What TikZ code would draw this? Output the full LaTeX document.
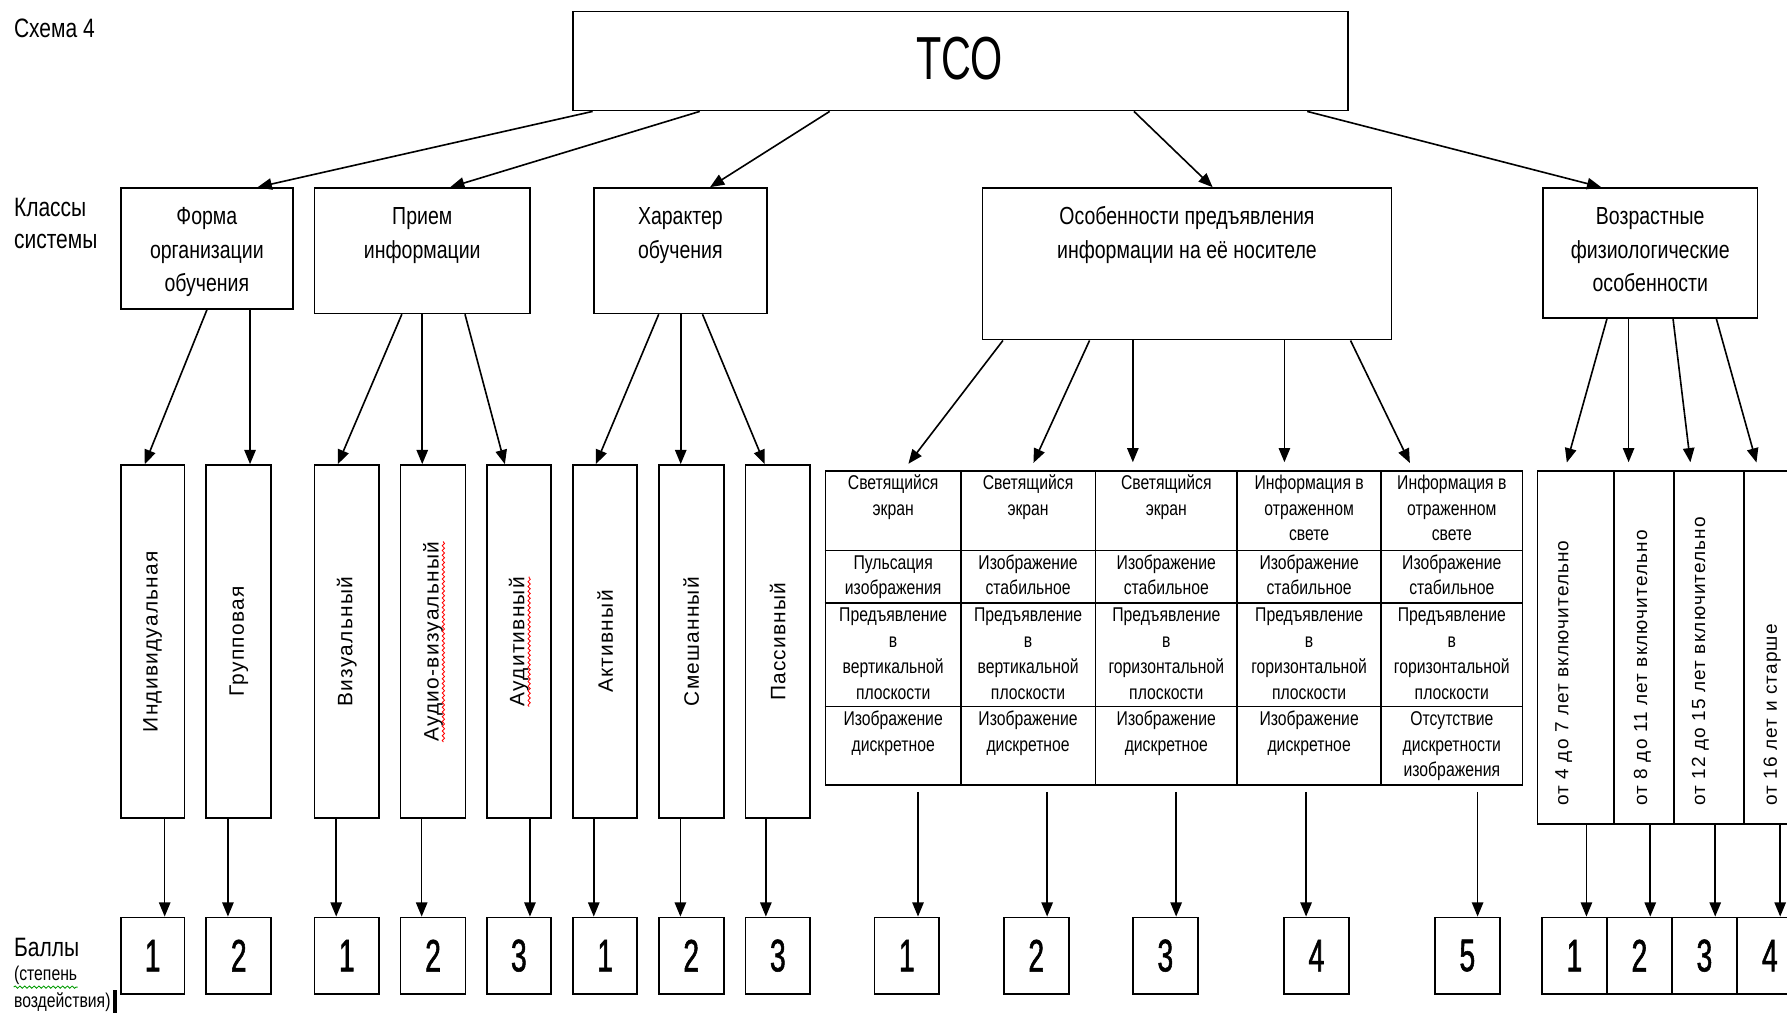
\documentclass[tikz,border=0pt]{standalone}
\usepackage{fontspec}
\setmainfont{Liberation Sans}
\newfontfamily\nar{Liberation Sans}[FakeStretch=0.79]
\newfontfamily\tcof{Liberation Sans}[FakeStretch=0.68]
\newfontfamily\digf{Liberation Sans}[FakeStretch=0.62,FakeBold=1.2]
\newfontfamily\vrt{Liberation Sans}[LetterSpace=6]
\usetikzlibrary{arrows.meta,fit,decorations.pathmorphing}
\newcommand\fl{\rule{0pt}{0.8em}}
\begin{document}
\begin{tikzpicture}[x=0.6pt,y=-0.6pt,
  bx/.style={draw, line width=0.9pt, inner sep=0pt},
  arr/.style={line width=0.85pt, -{Triangle[length=7.5pt,width=6pt]}},
  ln/.style={line width=0.9pt},
  cls/.style={font=\nar\fontsize{13}{17.7}\selectfont, align=center, anchor=north, inner sep=0pt},
  cell/.style={font=\nar\fontsize{10.5}{13.6}\selectfont, align=center, anchor=north, inner sep=0pt},
  vtxt/.style={font=\vrt\fontsize{11}{13}\selectfont, rotate=90, inner sep=0pt},
  atxt/.style={font=\vrt\fontsize{10}{12}\selectfont, rotate=90, anchor=west, inner sep=0pt},
  dig/.style={font=\digf\fontsize{24}{28}\selectfont, inner sep=0pt},
  lbl/.style={font=\nar\fontsize{14}{17}\selectfont, anchor=west, inner sep=0pt},
  sm/.style={font=\nar\fontsize{10.5}{12}\selectfont, anchor=west, inner sep=0pt},
  spell/.style={decorate, decoration={snake, amplitude=0.6pt, segment length=2.5pt}, line width=0.45pt}
]
\useasboundingbox (0,0) rectangle (1568,892);
\clip (0,0) rectangle (1568,892);

% left labels
\node[lbl] (sch) at (12,25) {Схема 4};
\node[lbl] (kl1) at (12,182) {Классы};
\node[lbl] (kl2) at (12,212) {системы};
\node[lbl] (bal) at (12,831) {Баллы};
\node[sm] (st1) at (12,856) {(степень};
\node[sm] (st2) at (12,879) {воздействия)};
\draw[spell, green!60!black] ([yshift=-1pt]st1.south west) -- ([yshift=-1pt]st1.south east);
\fill (st2.east) ++(2,-10) rectangle ++(3,20);

% root
\node[bx, fit={(503,10)(1183,97)}] (tco) {};
\node[font=\tcof\fontsize{32}{36}\selectfont, inner sep=0pt] (tcot) at (842,51) {ТСО};

% classes
\node[bx, fit={(106,165)(257,271)}] (c1) {};
\node[cls] (c1t) at (181.5,179.5) {\fl Форма\\организации\\обучения};
\node[bx, fit={(276,165)(465,275)}] (c2) {};
\node[cls] (c2t) at (370.5,179.5) {\fl Прием\\информации};
\node[bx, fit={(521,165)(673,275)}] (c3) {};
\node[cls] (c3t) at (597,179.5) {\fl Характер\\обучения};
\node[bx, fit={(862,165)(1221,298)}] (c4) {};
\node[cls] (c4t) at (1041.5,179.5) {\fl Особенности предъявления\\информации на её носителе};
\node[bx, fit={(1354,165)(1542,279)}] (c5) {};
\node[cls] (c5t) at (1448,179.5) {\fl Возрастные\\физиологические\\особенности};

\draw[arr] (tco.south -| 520,0) -- (c1.north -| 226,0);
\draw[arr] (tco.south -| 614,0) -- (c2.north -| 395,0);
\draw[arr] (tco.south -| 728,0) -- (c3.north -| 623,0);
\draw[arr] (tco.south -| 995,0) -- (c4.north -| 1064,0);
\draw[arr] (tco.south -| 1147,0) -- (c5.north -| 1405,0);

% level 2 vertical boxes
\node[bx, fit={(106,408)(162,718)}] (b1) {};
\node[vtxt] (b1t) at (b1.center) {Индивидуальная};
\node[bx, fit={(181,408)(238,718)}] (b2) {};
\node[vtxt] (b2t) at (b2.center) {Групповая};
\node[bx, fit={(276,408)(332.5,718)}] (b3) {};
\node[vtxt] (b3t) at (b3.center) {Визуальный};
\node[bx, fit={(351.5,408)(408.5,718)}] (b4) {};
\node[vtxt] (b4t) at (b4.center) {Аудио-визуальный};
\node[bx, fit={(427,408)(483.5,718)}] (b5) {};
\node[vtxt] (b5t) at (b5.center) {Аудитивный};
\node[bx, fit={(503,408)(559,718)}] (b6) {};
\node[vtxt] (b6t) at (b6.center) {Активный};
\node[bx, fit={(578,408)(635,718)}] (b7) {};
\node[vtxt] (b7t) at (b7.center) {Смешанный};
\node[bx, fit={(654,408)(711,718)}] (b8) {};
\node[vtxt] (b8t) at (b8.center) {Пассивный};
\draw[spell, red] (b4t.south west) -- (b4t.south east);
\draw[spell, red] (b5t.south west) -- (b5t.south east);

\draw[arr] (c1.south -| 181.6,0) -- (b1.north -| 127,0);
\draw[arr] (c1.south -| 219.4,0) -- (b2.north -| 219.4,0);
\draw[arr] (c2.south -| 352.6,0) -- (b3.north -| 296.4,0);
\draw[arr] (c2.south -| 370.5,0) -- (b4.north -| 370.5,0);
\draw[arr] (c2.south -| 408,0) -- (b5.north -| 443,0);
\draw[arr] (c3.south -| 578,0) -- (b6.north -| 522.8,0);
\draw[arr] (c3.south -| 597.3,0) -- (b7.north -| 597.3,0);
\draw[arr] (c3.south -| 616.4,0) -- (b8.north -| 671,0);

% table of presentation features
\node[bx, fit={(724.3,413)(843,689)}] (t1) {};
\node[bx, fit={(843,413)(961.2,689)}] (t2) {};
\node[bx, fit={(961.2,413)(1085.5,689)}] (t3) {};
\node[bx, fit={(1085.5,413)(1211.8,689)}] (t4) {};
\node[bx, fit={(1211.8,413)(1336,689)}] (t5) {};
\draw[ln] (t1.west |- 0,483) -- (t5.east |- 0,483);
\draw[ln] (t1.west |- 0,529) -- (t5.east |- 0,529);
\draw[ln] (t1.west |- 0,620) -- (t5.east |- 0,620);

\node[cell] (r11) at (783.7,415) {\fl Светящийся\\экран};
\node[cell] (r12) at (902.1,415) {\fl Светящийся\\экран};
\node[cell] (r13) at (1023.4,415) {\fl Светящийся\\экран};
\node[cell] (r14) at (1148.7,415) {\fl Информация в\\отраженном\\свете};
\node[cell] (r15) at (1273.9,415) {\fl Информация в\\отраженном\\свете};
\node[cell] (r21) at (783.7,485) {\fl Пульсация\\изображения};
\node[cell] (r22) at (902.1,485) {\fl Изображение\\стабильное};
\node[cell] (r23) at (1023.4,485) {\fl Изображение\\стабильное};
\node[cell] (r24) at (1148.7,485) {\fl Изображение\\стабильное};
\node[cell] (r25) at (1273.9,485) {\fl Изображение\\стабильное};
\node[cell] (r31) at (783.7,531) {\fl Предъявление\\в\\вертикальной\\плоскости};
\node[cell] (r32) at (902.1,531) {\fl Предъявление\\в\\вертикальной\\плоскости};
\node[cell] (r33) at (1023.4,531) {\fl Предъявление\\в\\горизонтальной\\плоскости};
\node[cell] (r34) at (1148.7,531) {\fl Предъявление\\в\\горизонтальной\\плоскости};
\node[cell] (r35) at (1273.9,531) {\fl Предъявление\\в\\горизонтальной\\плоскости};
\node[cell] (r41) at (783.7,622) {\fl Изображение\\дискретное};
\node[cell] (r42) at (902.1,622) {\fl Изображение\\дискретное};
\node[cell] (r43) at (1023.4,622) {\fl Изображение\\дискретное};
\node[cell] (r44) at (1148.7,622) {\fl Изображение\\дискретное};
\node[cell] (r45) at (1273.9,622) {\fl Отсутствие\\дискретности\\изображения};

\draw[arr, shorten >=4pt] (c4.south -| 880,0) -- (t1.north -| 793,0);
\draw[arr, shorten >=4pt] (c4.south -| 956,0) -- (t2.north -| 904,0);
\draw[arr, shorten >=4pt] (c4.south -| 994,0) -- (t3.north -| 994,0);
\draw[arr, shorten >=4pt] (c4.south -| 1127,0) -- (t4.north -| 1127,0);
\draw[arr, shorten >=4pt] (c4.south -| 1185,0) -- (t5.north -| 1240,0);

% age table
\node[bx, fit={(1349,413)(1416,723)}] (a1) {};
\node[bx, fit={(1416,413)(1469,723)}] (a2) {};
\node[bx, fit={(1469,413)(1530,723)}] (a3) {};
\node[bx, fit={(1530,413)(1610,723)}] (a4) {};
\node[atxt] (a1t) at (1372,707) {от 4 до 7 лет включительно};
\node[atxt] (a2t) at (1441,707) {от 8 до 11 лет включительно};
\node[atxt] (a3t) at (1492,707) {от 12 до 15 лет включительно};
\node[atxt] (a4t) at (1555,707) {от 16 лет и старше};

\draw[arr, shorten >=4pt] (c5.south -| 1410,0) -- (a1.north -| 1373,0);
\draw[arr, shorten >=4pt] (c5.south -| 1429,0) -- (a2.north -| 1429,0);
\draw[arr, shorten >=4pt] (c5.south -| 1468,0) -- (a3.north -| 1484,0);
\draw[arr, shorten >=4pt] (c5.south -| 1506,0) -- (a4.north -| 1543,0);

% score boxes
\node[bx, fit={(106,805)(162,872)}] (s1) {};
\node[bx, fit={(181,805)(238,872)}] (s2) {};
\node[bx, fit={(276,805)(332.5,872)}] (s3) {};
\node[bx, fit={(351.5,805)(408.5,872)}] (s4) {};
\node[bx, fit={(427,805)(483.5,872)}] (s5) {};
\node[bx, fit={(503,805)(559,872)}] (s6) {};
\node[bx, fit={(578,805)(635,872)}] (s7) {};
\node[bx, fit={(654,805)(711,872)}] (s8) {};
\node[bx, fit={(767.4,805)(824,872)}] (s9) {};
\node[bx, fit={(880.8,805)(937.7,872)}] (s10) {};
\node[bx, fit={(994,805)(1051,872)}] (s11) {};
\node[bx, fit={(1126.7,805)(1183.5,872)}] (s12) {};
\node[bx, fit={(1259,805)(1316,872)}] (s13) {};
\node[bx, fit={(1353,805)(1410,872)}] (g1) {};
\node[bx, fit={(1410,805)(1467,872)}] (g2) {};
\node[bx, fit={(1467,805)(1524,872)}] (g3) {};
\node[bx, fit={(1524,805)(1600,872)}] (g4) {};

\node[dig] (d1) at (s1.center) {1};
\node[dig] (d2) at (s2.center) {2};
\node[dig] (d3) at (s3.center) {1};
\node[dig] (d4) at (s4.center) {2};
\node[dig] (d5) at (s5.center) {3};
\node[dig] (d6) at (s6.center) {1};
\node[dig] (d7) at (s7.center) {2};
\node[dig] (d8) at (s8.center) {3};
\node[dig] (d9) at (s9.center) {1};
\node[dig] (d10) at (s10.center) {2};
\node[dig] (d11) at (s11.center) {3};
\node[dig] (d12) at (s12.center) {4};
\node[dig] (d13) at (s13.center) {5};
\node[dig] (e1) at (g1.center) {1};
\node[dig] (e2) at (g2.center) {2};
\node[dig] (e3) at (g3.center) {3};
\node[dig] (e4) at (1553,838.5) {4};

\draw[arr] (b1.south -| 144.5,0) -- (s1.north -| 144.5,0);
\draw[arr] (b2.south -| 200,0) -- (s2.north -| 200,0);
\draw[arr] (b3.south -| 295,0) -- (s3.north -| 295,0);
\draw[arr] (b4.south -| 370,0) -- (s4.north -| 370,0);
\draw[arr] (b5.south -| 465,0) -- (s5.north -| 465,0);
\draw[arr] (b6.south -| 521,0) -- (s6.north -| 521,0);
\draw[arr] (b7.south -| 597,0) -- (s7.north -| 597,0);
\draw[arr] (b8.south -| 672,0) -- (s8.north -| 672,0);

\draw[arr, shorten <=3pt] (t1.south -| 805.5,0) -- (s9.north -| 805.5,0);
\draw[arr, shorten <=3pt] (t2.south -| 918.8,0) -- (s10.north -| 918.8,0);
\draw[arr, shorten <=3pt] (t3.south -| 1032,0) -- (s11.north -| 1032,0);
\draw[arr, shorten <=3pt] (t4.south -| 1146,0) -- (s12.north -| 1146,0);
\draw[arr, shorten <=3pt] (t5.south -| 1296.5,0) -- (s13.north -| 1296.5,0);

\draw[arr] (a1.south -| 1392,0) -- (g1.north -| 1392,0);
\draw[arr] (a2.south -| 1448,0) -- (g2.north -| 1448,0);
\draw[arr] (a3.south -| 1505,0) -- (g3.north -| 1505,0);
\draw[arr] (a4.south -| 1562,0) -- (g4.north -| 1562,0);
\end{tikzpicture}
\end{document}
